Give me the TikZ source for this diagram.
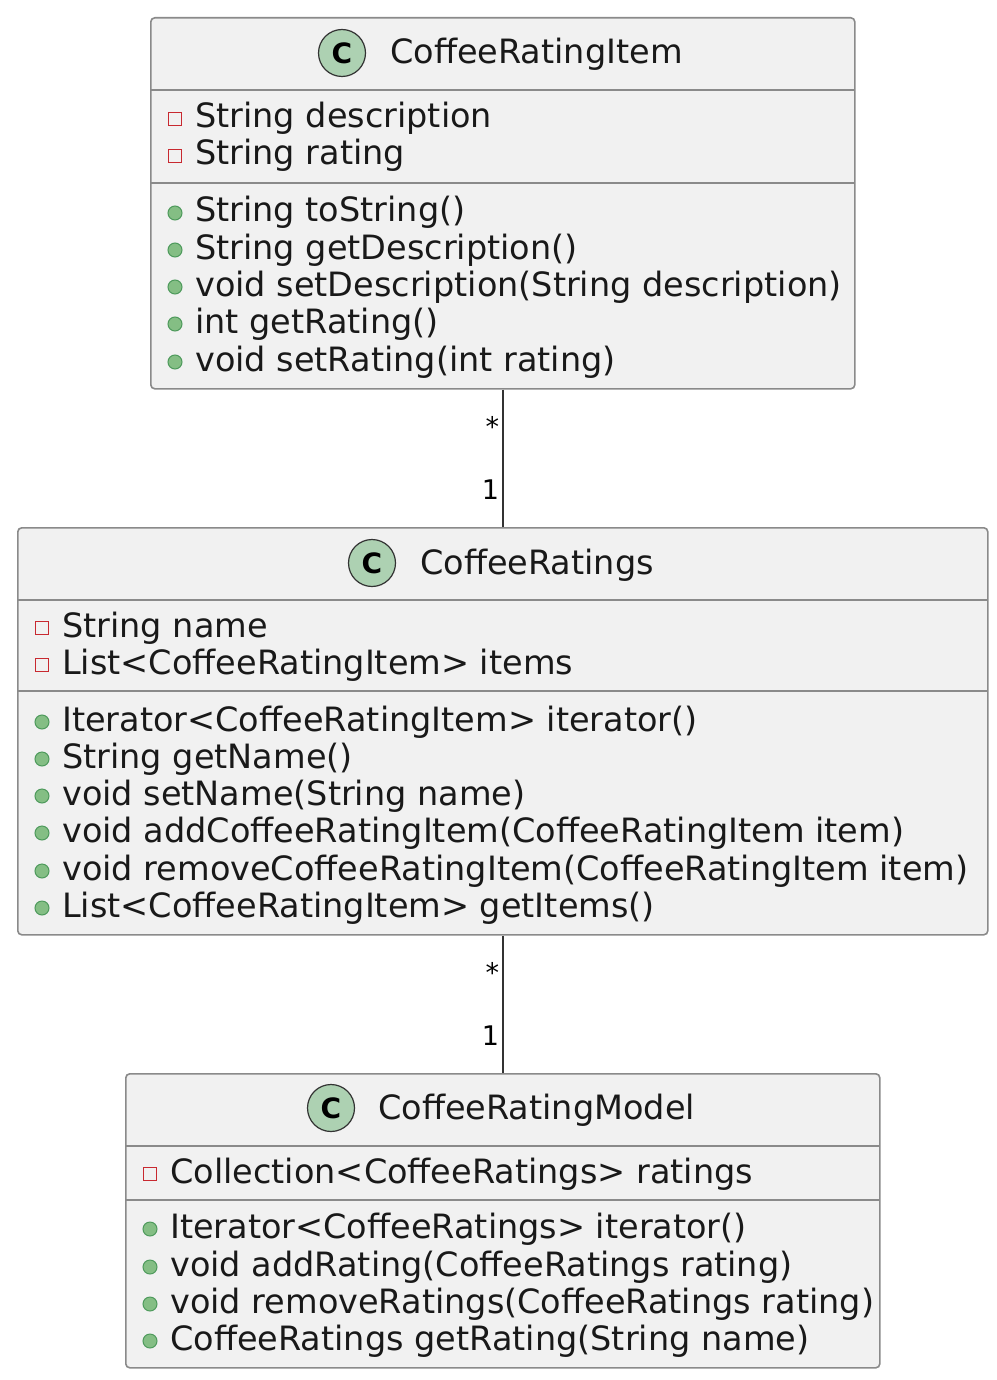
\documentclass[tikz,border=0pt]{standalone}
\usepackage{fontspec}
\setmainfont{DejaVu Sans}
\definecolor{boxfill}{HTML}{F1F1F1}
\definecolor{boxline}{HTML}{8A8A8A}
\definecolor{circfill}{HTML}{ADD1B2}
\definecolor{privred}{HTML}{C82930}
\definecolor{pubfill}{HTML}{84BE84}
\definecolor{publine}{HTML}{4E9A5C}
\begin{document}
\begin{tikzpicture}[x=1pt,y=-1pt,
  box/.style={draw=boxline, fill=boxfill, line width=1.6pt, rounded corners=4pt, anchor=north west, inner sep=0pt},
  sepline/.style={draw=boxline, line width=1.6pt},
  cls/.style={circle, draw=black!80, fill=circfill, line width=1.2pt, minimum size=47pt, inner sep=0pt, font=\fontsize{28}{32}\selectfont\bfseries},
  title/.style={anchor=base west, inner sep=0pt, font=\fontsize{33.5}{38}\selectfont, text=black!90},
  mem/.style={anchor=base west, inner sep=0pt, font=\fontsize{33.5}{38}\selectfont, text=black!90},
  priv/.style={rectangle, draw=privred, line width=1.5pt, minimum size=13pt, inner sep=0pt},
  pub/.style={circle, draw=publine, fill=pubfill, line width=1pt, minimum size=14pt, inner sep=0pt},
  conn/.style={draw=black!80, line width=1.6pt},
  mult/.style={inner sep=3pt, font=\fontsize{27}{30}\selectfont}
]
\useasboundingbox (0,0) rectangle (996,1380);

% ---------- CoffeeRatingItem
\node[box, minimum width=704pt, minimum height=371pt] (b1) at (150,17) {};
\draw[sepline] (150,90) -- (854,90);
\draw[sepline] (150,183) -- (854,183);
\node[cls] (b1c) at (342,53) {C};
\node[title] (b1t) at (390,64) {CoffeeRatingItem};
\node[priv] (b1i1) at (175,119) {};
\node[mem] (b1m1) at (195,128) {String description};
\node[priv] (b1i2) at (175,156) {};
\node[mem] (b1m2) at (195,165) {String rating};
\node[pub] (b1i3) at (175,213) {};
\node[mem] (b1m3) at (195,222) {String toString()};
\node[pub] (b1i4) at (175,250) {};
\node[mem] (b1m4) at (195,259) {String getDescription()};
\node[pub] (b1i5) at (175,287) {};
\node[mem] (b1m5) at (195,296) {void setDescription(String description)};
\node[pub] (b1i6) at (175,324) {};
\node[mem] (b1m6) at (195,333) {int getRating()};
\node[pub] (b1i7) at (175,362) {};
\node[mem] (b1m7) at (195,371) {void setRating(int rating)};

% ---------- CoffeeRatings
\node[box, minimum width=970pt, minimum height=407pt] (b2) at (17,527) {};
\draw[sepline] (17,600) -- (987,600);
\draw[sepline] (17,691) -- (987,691);
\node[cls] (b2c) at (372,563) {C};
\node[title] (b2t) at (420,574) {CoffeeRatings};
\node[priv] (b2i1) at (42,628) {};
\node[mem] (b2m1) at (62,637) {String name};
\node[priv] (b2i2) at (42,665) {};
\node[mem] (b2m2) at (62,674) {List<CoffeeRatingItem> items};
\node[pub] (b2i3) at (42,722) {};
\node[mem] (b2m3) at (62,731) {Iterator<CoffeeRatingItem> iterator()};
\node[pub] (b2i4) at (42,759) {};
\node[mem] (b2m4) at (62,768) {String getName()};
\node[pub] (b2i5) at (42,796) {};
\node[mem] (b2m5) at (62,805) {void setName(String name)};
\node[pub] (b2i6) at (42,833) {};
\node[mem] (b2m6) at (62,842) {void addCoffeeRatingItem(CoffeeRatingItem item)};
\node[pub] (b2i7) at (42,871) {};
\node[mem] (b2m7) at (62,880) {void removeCoffeeRatingItem(CoffeeRatingItem item)};
\node[pub] (b2i8) at (42,908) {};
\node[mem] (b2m8) at (62,917) {List<CoffeeRatingItem> getItems()};

% ---------- CoffeeRatingModel
\node[box, minimum width=754pt, minimum height=294pt] (b3) at (125,1073) {};
\draw[sepline] (125,1146) -- (879,1146);
\draw[sepline] (125,1200) -- (879,1200);
\node[cls] (b3c) at (331,1108) {C};
\node[title] (b3t) at (378,1119) {CoffeeRatingModel};
\node[priv] (b3i1) at (150,1174) {};
\node[mem] (b3m1) at (170,1183) {Collection<CoffeeRatings> ratings};
\node[pub] (b3i2) at (150,1229) {};
\node[mem] (b3m2) at (170,1238) {Iterator<CoffeeRatings> iterator()};
\node[pub] (b3i3) at (150,1267) {};
\node[mem] (b3m3) at (170,1276) {void addRating(CoffeeRatings rating)};
\node[pub] (b3i4) at (150,1304) {};
\node[mem] (b3m4) at (170,1313) {void removeRatings(CoffeeRatings rating)};
\node[pub] (b3i5) at (150,1341) {};
\node[mem] (b3m5) at (170,1350) {CoffeeRatings getRating(String name)};

% ---------- connectors
\draw[conn] (b1.south) -- node[mult, pos=0.27, left] {*} node[mult, pos=0.73, left] {1} (b2.north);
\draw[conn] (b2.south) -- node[mult, pos=0.27, left] {*} node[mult, pos=0.73, left] {1} (b3.north);
\end{tikzpicture}
\end{document}
